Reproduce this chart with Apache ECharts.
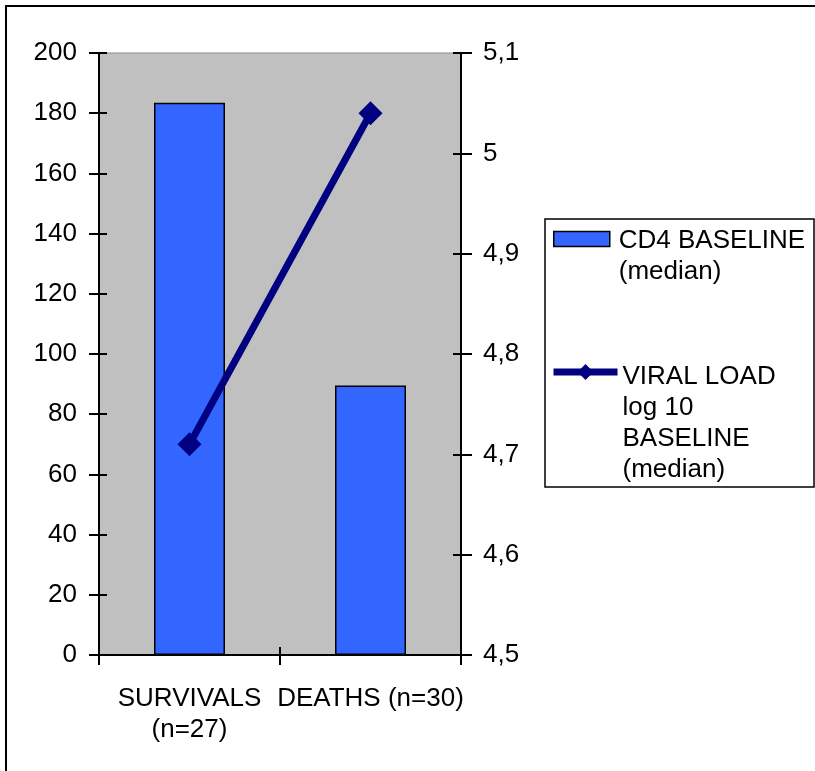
<!DOCTYPE html>
<html>
<head>
<meta charset="utf-8">
<title>CD4 and viral load at baseline</title>
<script src="https://cdn.jsdelivr.net/npm/echarts@6.0.0/dist/echarts.min.js"></script>
<style>
  html, body { margin: 0; padding: 0; background: #fff; }
  #chart { width: 815px; height: 771px; }
</style>
</head>
<body>
<div id="chart"></div>
<script>
// Groups on the category axis
const categories = ['SURVIVALS\n(n=27)', 'DEATHS (n=30)'];
// Median CD4 count at baseline (left axis)
const cd4Median = [183.5, 89.5];
// Median log10 viral load at baseline (right axis)
const viralLoadMedian = [4.71, 5.04];

const cd4Name = 'CD4 BASELINE\n(median)';
const vlName = 'VIRAL LOAD\nlog 10\nBASELINE\n(median)';

// Axis ranges
const cd4Axis = { min: 0, max: 200, interval: 20 };
const vlAxis = { min: 4.5, max: 5.1, interval: 0.1 };

const FONT = 'Liberation Sans, Arial, sans-serif';
const FS = 26;
const LH = 31;

const chart = echarts.init(document.getElementById('chart'), null, { renderer: 'canvas' });

const commaDecimal = v => String(Math.round(v * 10) / 10).replace('.', ',');

// Legend text: a spacer line on top pushes the first text line level with the icon
const legendText = (gapStyle, textStyle) => name =>
  '{' + gapStyle + '| }\n' + name.split('\n').map(s => '{' + textStyle + '|' + s + '}').join('\n');

const legendRich = {
  t1: { fontFamily: FONT, fontSize: FS, lineHeight: LH, color: '#000', padding: [0, 0, 0, 4] },
  t2: { fontFamily: FONT, fontSize: FS, lineHeight: LH, color: '#000' },
  g1: { fontSize: 4, lineHeight: LH + 4 },
  g2: { fontSize: 4, lineHeight: 3 * LH + 10 }
};

const option = {
  animation: false,
  textStyle: { fontFamily: FONT, color: '#000' },
  grid: {
    left: 99, right: 354, top: 53, bottom: 116,
    show: true, backgroundColor: '#C0C0C0', borderColor: '#8c8c8c', borderWidth: 1
  },
  xAxis: [
    {
      type: 'category', data: categories, position: 'bottom',
      axisLine: { lineStyle: { color: '#000', width: 2 } },
      axisTick: { show: true, inside: false, length: 10, alignWithLabel: false, interval: 0, lineStyle: { color: '#000', width: 2 } },
      axisLabel: { fontFamily: FONT, fontSize: FS, lineHeight: LH, color: '#000', margin: 28, interval: 0 },
      splitLine: { show: false }
    },
    {
      // inner half of the crossing tick marks
      type: 'category', data: categories, position: 'bottom',
      axisLine: { show: false },
      axisTick: { show: true, inside: true, length: 8, alignWithLabel: false, interval: 0, lineStyle: { color: '#000', width: 2 } },
      axisLabel: { show: false },
      splitLine: { show: false }
    }
  ],
  yAxis: [
    {
      type: 'value', position: 'left', min: cd4Axis.min, max: cd4Axis.max, interval: cd4Axis.interval,
      axisLine: { show: true, lineStyle: { color: '#000', width: 2 } },
      axisTick: { show: true, inside: false, length: 10, lineStyle: { color: '#000', width: 2 } },
      axisLabel: { fontFamily: FONT, fontSize: FS, color: '#000', margin: 22 },
      splitLine: { show: false }
    },
    {
      type: 'value', position: 'right', min: vlAxis.min, max: vlAxis.max, interval: vlAxis.interval,
      axisLine: { show: true, lineStyle: { color: '#000', width: 2 } },
      axisTick: { show: true, inside: false, length: 11, lineStyle: { color: '#000', width: 2 } },
      axisLabel: { fontFamily: FONT, fontSize: FS, color: '#000', margin: 22, formatter: commaDecimal },
      splitLine: { show: false }
    },
    {
      type: 'value', position: 'left', min: cd4Axis.min, max: cd4Axis.max, interval: cd4Axis.interval,
      axisLine: { show: false },
      axisTick: { show: true, inside: true, length: 8, lineStyle: { color: '#000', width: 2 } },
      axisLabel: { show: false },
      splitLine: { show: false }
    },
    {
      type: 'value', position: 'right', min: vlAxis.min, max: vlAxis.max, interval: vlAxis.interval,
      axisLine: { show: false },
      axisTick: { show: true, inside: true, length: 8, lineStyle: { color: '#000', width: 2 } },
      axisLabel: { show: false },
      splitLine: { show: false }
    }
  ],
  legend: [
    {
      data: [cd4Name],
      orient: 'vertical', left: 553, top: 206, padding: 0,
      icon: 'rect', itemWidth: 56, itemHeight: 15,
      itemStyle: { borderColor: '#000', borderWidth: 1.5 },
      formatter: legendText('g1', 't1'),
      textStyle: { fontFamily: FONT, fontSize: FS, color: '#000', rich: legendRich },
      selectedMode: false
    },
    {
      data: [vlName],
      orient: 'vertical', left: 550, top: 308, padding: 0,
      itemWidth: 64, itemHeight: 20,
      lineStyle: { width: 7, color: '#000080' },
      itemStyle: { color: '#000080' },
      formatter: legendText('g2', 't2'),
      textStyle: { fontFamily: FONT, fontSize: FS, color: '#000', rich: legendRich },
      selectedMode: false
    }
  ],
  graphic: [
    {
      type: 'rect', silent: true, z: 100,
      shape: { x: 6, y: 6, width: 900, height: 900 },
      style: { fill: 'none', stroke: '#000', lineWidth: 2 }
    },
    {
      type: 'rect', silent: true, z: 100,
      shape: { x: 545, y: 219, width: 269, height: 268 },
      style: { fill: 'none', stroke: '#000', lineWidth: 1.5 }
    }
  ],
  series: [
    {
      name: cd4Name, type: 'bar', xAxisIndex: 0, yAxisIndex: 0,
      data: cd4Median, barWidth: 71,
      itemStyle: { color: '#3366FF', borderColor: '#000', borderWidth: 1.5 }
    },
    {
      name: vlName, type: 'line', xAxisIndex: 0, yAxisIndex: 1,
      data: viralLoadMedian,
      symbol: 'diamond', symbolSize: 24,
      lineStyle: { color: '#000080', width: 7 },
      itemStyle: { color: '#000080' },
      z: 5
    }
  ]
};

chart.setOption(option);
</script>
</body>
</html>
